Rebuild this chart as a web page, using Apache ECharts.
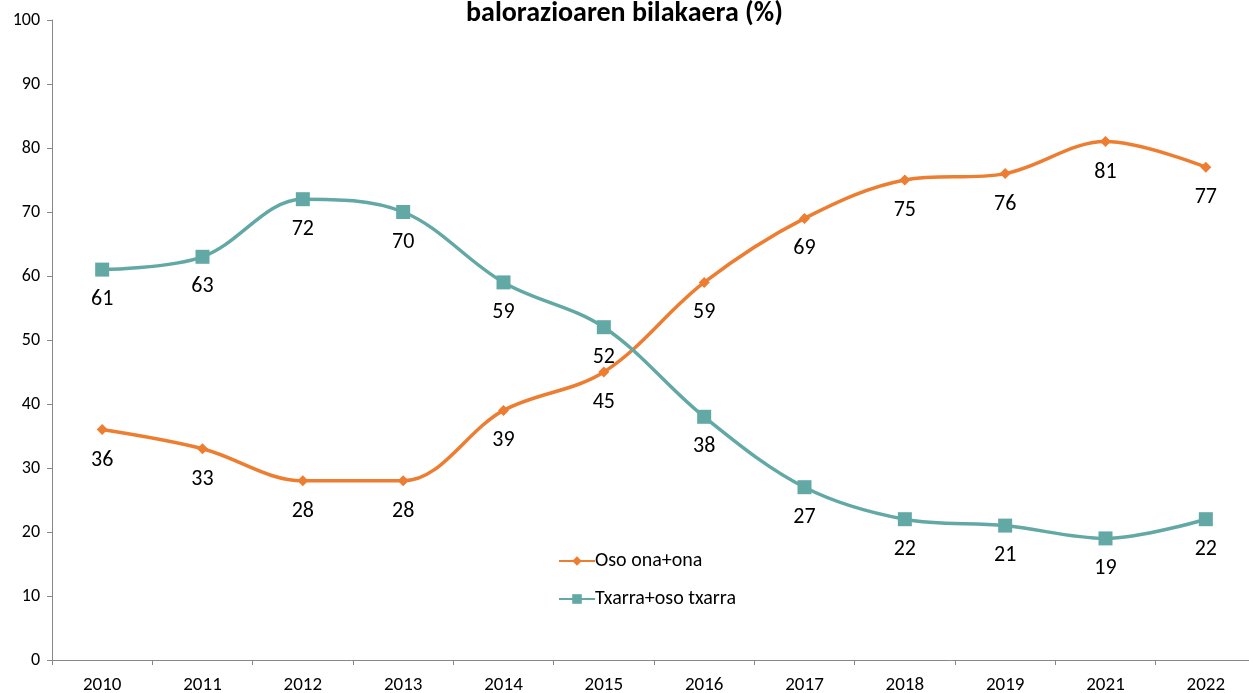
<!DOCTYPE html>
<html>
<head>
<meta charset="utf-8">
<script src="https://cdn.jsdelivr.net/npm/echarts@6/dist/echarts.min.js"></script>
<style>
  html, body { margin: 0; padding: 0; background: #fff; }
  #chart { width: 1249px; height: 693px; }
</style>
</head>
<body>
<div id="chart"></div>
<script>
// urteak
var years = ['2010', '2011', '2012', '2013', '2014', '2015', '2016', '2017', '2018', '2019', '2021', '2022'];
// Oso ona+ona
var onaData = [36, 33, 28, 28, 39, 45, 59, 69, 75, 76, 81, 77];
// Txarra+oso txarra
var txarraData = [61, 63, 72, 70, 59, 52, 38, 27, 22, 21, 19, 22];

var fontFam = 'Carlito, Calibri, "Open Sans", "Noto Sans", sans-serif';

var chart = echarts.init(document.getElementById('chart'));
chart.setOption({
    animation: false,
    textStyle: { fontFamily: fontFam },
    title: {
        text: 'balorazioaren bilakaera (%)',
        left: 'center',
        top: -5,
        textStyle: { fontSize: 28, fontWeight: 'bold', color: '#000', fontFamily: fontFam }
    },
    legend: {
        orient: 'vertical',
        left: 553,
        top: 546,
        itemGap: 18,
        itemWidth: 36,
        itemHeight: 12,
        textStyle: { fontSize: 20, color: '#000', padding: [0, 0, 0, -5] },
        data: ['Oso ona+ona', 'Txarra+oso txarra']
    },
    grid: { left: 52, right: -7, top: 20, bottom: 33, outerBoundsMode: 'none' },
    xAxis: {
        type: 'category',
        data: years,
        boundaryGap: true,
        axisLine: { lineStyle: { color: '#888', width: 1 } },
        axisTick: { show: true, alignWithLabel: false, length: 5, lineStyle: { color: '#888' } },
        axisLabel: { color: '#000', fontSize: 19, margin: 16 }
    },
    yAxis: {
        type: 'value',
        min: 0,
        max: 100,
        interval: 10,
        axisLine: { show: true, lineStyle: { color: '#888', width: 1 } },
        axisTick: { show: true, length: 5, lineStyle: { color: '#888' } },
        splitLine: { show: false },
        axisLabel: { color: '#000', fontSize: 18, margin: 12 }
    },
    series: [
        {
            name: 'Oso ona+ona',
            type: 'line',
            data: onaData,
            smooth: 0.35,
            symbol: 'diamond',
            symbolSize: 11,
            lineStyle: { width: 3.5, color: '#ED7D31' },
            itemStyle: { color: '#ED7D31' },
            label: { show: true, position: 'bottom', distance: 14, fontSize: 22, color: '#000' }
        },
        {
            name: 'Txarra+oso txarra',
            type: 'line',
            data: txarraData,
            smooth: 0.35,
            symbol: 'rect',
            symbolSize: 14,
            lineStyle: { width: 3.5, color: '#62A9A6' },
            itemStyle: { color: '#62A9A6' },
            label: { show: true, position: 'bottom', distance: 12, fontSize: 22, color: '#000' }
        }
    ]
});
</script>
</body>
</html>
